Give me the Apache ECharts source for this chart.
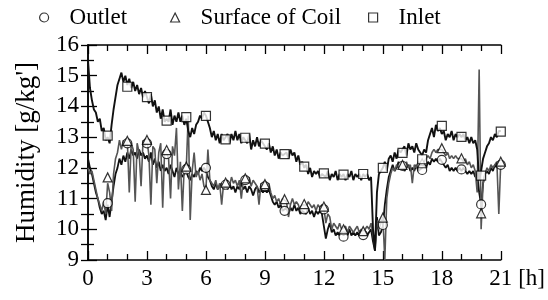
<!DOCTYPE html>
<html>
<head>
<meta charset="utf-8">
<script src="https://cdn.jsdelivr.net/npm/echarts@6/dist/echarts.min.js"></script>
<style>
  html, body { margin: 0; padding: 0; background: #fff; }
  #chart { width: 548px; height: 300px; }
</style>
</head>
<body>
<div id="chart"></div>
<script>
// sampling step of the logged lines, in hours
const step = 0.1;

// Inlet humidity, 0.0 .. 21.0 h
const inletLine = [
  15.5, 14.6, 14.2, 13.9, 13.8, 13.5, 13.6, 13.2, 13.3, 12.9,
  13.0, 12.8, 13.4, 13.9, 14.3, 14.7, 14.9, 15.1, 14.8, 15.0,
  14.7, 14.9, 14.6, 14.8, 14.5, 14.7, 14.4, 14.6, 14.3, 14.5,
  14.3, 14.1, 14.4, 14.0, 14.2, 13.8, 14.0, 13.6, 13.9, 13.5,
  13.6, 13.5, 13.9, 13.4, 13.7, 13.5, 13.8, 13.5, 13.7, 13.4,
  13.6, 13.2, 13.0, 13.3, 13.1, 13.4, 13.5, 13.7, 13.6, 13.8,
  13.7, 13.5, 13.3, 13.0, 13.2, 12.9, 13.1, 12.8, 13.1, 12.9,
  12.9, 13.1, 12.8, 13.1, 12.9, 13.2, 12.9, 13.1, 12.8, 13.0,
  13.0, 12.8, 13.1, 12.6, 12.9, 12.7, 13.0, 12.7, 12.9, 12.8,
  12.8, 12.6, 12.8, 12.5, 12.7, 12.4, 12.6, 12.3, 12.5, 12.4,
  12.4, 12.5, 12.3, 12.6, 12.4, 12.5, 12.2, 12.4, 12.1, 12.2,
  12.0, 12.1, 11.8, 12.0, 11.7, 11.9, 11.8, 11.9, 11.7, 11.8,
  11.8, 11.7, 11.9, 11.6, 11.8, 11.7, 11.9, 11.6, 11.8, 11.7,
  11.8, 11.6, 11.8, 11.7, 11.9, 11.6, 11.8, 11.7, 11.8, 11.6,
  11.8, 11.7, 11.8, 11.6, 11.7, 10.0, 9.3, 11.2, 11.8, 11.9,
  12.0, 12.2, 11.9, 12.3, 12.4, 12.2, 12.5, 12.3, 12.6, 12.5,
  12.5, 12.7, 12.4, 12.8, 12.6, 12.7, 12.5, 12.8, 12.6, 12.5,
  12.4, 12.6, 12.5, 12.9, 13.1, 13.3, 13.0, 13.4, 13.2, 13.3,
  13.1, 13.2, 12.9, 13.1, 13.0, 13.2, 12.9, 13.1, 13.0, 13.1,
  13.0, 13.1, 12.9, 13.0, 12.8, 13.0, 12.8, 12.9, 12.6, 11.6,
  11.9, 12.3, 12.5, 12.7, 12.8, 13.0, 12.9, 13.1, 13.0, 13.2,
  13.2
];

// Outlet humidity, 0.0 .. 21.0 h
const outletLine = [
  12.3, 12.0, 11.8, 11.5, 11.2, 11.0, 10.7, 10.5, 10.6, 10.3,
  10.8, 10.4, 10.9, 11.4, 11.8, 12.0, 12.3, 12.1, 12.4, 12.2,
  12.5, 12.3, 12.6, 12.4, 12.5, 12.3, 12.6, 12.4, 12.5, 12.3,
  12.4, 12.2, 12.5, 12.1, 12.3, 12.0, 12.2, 11.9, 12.1, 11.9,
  12.0, 11.8, 12.1, 11.9, 11.7, 12.0, 11.8, 11.9, 11.7, 11.8,
  11.9, 11.7, 11.6, 11.8, 11.7, 11.9, 11.8, 12.0, 11.9, 12.0,
  11.9, 11.7, 11.6, 11.4, 11.3, 11.5, 11.3, 11.4, 11.5, 11.3,
  11.4, 11.3, 11.5, 11.3, 11.4, 11.2, 11.4, 11.3, 11.5, 11.3,
  11.4, 11.2, 11.4, 11.3, 11.1, 11.3, 11.4, 11.2, 11.3, 11.2,
  11.3, 11.2, 11.3, 11.1, 10.9, 10.8, 10.9, 10.7, 10.8, 10.6,
  10.6, 10.7, 10.5, 10.7, 10.6, 10.8, 10.6, 10.7, 10.5, 10.6,
  10.6, 10.5, 10.7, 10.5, 10.6, 10.4, 10.6, 10.5, 10.6, 10.5,
  10.5, 9.7, 10.0, 10.2, 9.9, 10.0, 9.8, 9.9, 9.8, 9.9,
  9.8, 9.9, 9.8, 10.0, 9.8, 9.9, 9.8, 9.9, 9.8, 9.9,
  9.8, 9.9, 9.8, 9.9, 10.0, 9.6, 9.3, 10.4, 9.8, 9.9,
  10.1, 10.8, 11.3, 11.7, 11.9, 12.1, 11.9, 12.0, 12.2, 12.0,
  12.1, 11.9, 12.0, 12.1, 11.9, 12.0, 11.9, 12.1, 11.9, 11.9,
  12.0, 12.1, 12.0, 12.2, 12.1, 12.3, 12.2, 12.3, 12.2, 12.3,
  12.2, 12.1, 12.0, 12.1, 11.9, 12.0, 11.9, 12.0, 11.9, 12.0,
  11.9, 12.0, 11.9, 11.8, 11.9, 11.8, 11.9, 11.7, 11.8, 11.2,
  10.8, 11.5, 11.8, 11.9, 11.8, 12.0, 11.9, 12.1, 12.0, 12.1,
  12.1
];

// Surface of coil humidity, 0.0 .. 21.0 h
const surfaceLine = [
  12.0, 11.8, 11.9, 11.6, 11.3, 11.0, 10.8, 10.6, 10.9, 10.5,
  11.5, 11.2, 10.6, 11.8, 12.3, 12.5, 12.9, 12.6, 12.9, 12.7,
  12.9, 11.2, 12.8, 12.6, 10.9, 12.8, 12.5, 11.4, 12.9, 12.7,
  12.9, 12.4, 10.8, 12.7, 12.6, 11.5, 12.5, 12.8, 10.7, 12.6,
  12.5, 12.3, 11.0, 12.7, 12.4, 13.3, 11.3, 12.2, 10.6, 12.1,
  12.0, 13.7, 10.3, 11.9, 12.5, 11.7, 11.9, 11.6, 11.8, 11.4,
  11.3, 12.6, 11.6, 11.5, 11.4, 11.6, 11.3, 11.5, 10.8, 11.5,
  11.5, 11.6, 11.4, 11.7, 11.5, 11.6, 11.4, 11.6, 11.0, 11.6,
  11.6, 11.5, 11.7, 11.4, 11.6, 11.5, 11.4, 10.8, 11.5, 11.4,
  11.5, 11.4, 11.5, 11.2, 11.0, 11.1, 10.9, 11.0, 10.8, 11.0,
  11.0, 10.9, 10.4, 10.8, 11.0, 10.8, 10.9, 10.8, 10.6, 10.8,
  10.8, 10.7, 10.9, 10.8, 10.7, 10.8, 10.6, 10.8, 10.7, 10.8,
  10.7, 10.2, 10.5, 10.4, 10.0, 10.2, 10.1, 10.0, 10.2, 10.0,
  10.0, 10.1, 9.9, 10.1, 10.0, 9.9, 10.0, 10.1, 9.9, 10.0,
  9.9, 10.0, 10.1, 10.0, 10.2, 9.8, 9.4, 10.3, 10.0, 10.2,
  10.4, 9.0, 11.0, 11.5, 11.8, 12.0, 11.9, 12.1, 12.0, 12.1,
  12.1, 12.0, 12.2, 12.0, 12.1, 11.5, 12.1, 12.0, 12.2, 12.1,
  12.1, 12.2, 12.3, 12.4, 12.3, 12.5, 12.6, 12.5, 12.6, 12.6,
  12.6, 12.5, 12.4, 12.5, 12.3, 12.4, 12.3, 12.4, 12.3, 12.3,
  12.3, 12.2, 12.3, 12.1, 12.2, 12.0, 12.1, 11.9, 11.2, 15.2,
  10.0, 11.5, 11.8, 12.0, 11.9, 12.1, 12.0, 12.1, 12.2, 10.5,
  12.2
];

// hourly marker positions
const markHours = [1, 2, 3, 4, 5, 6, 7, 8, 9, 10, 11, 12, 13, 14, 15, 16, 17, 18, 19, 20, 21];
const outletMarks = [10.85, 12.8, 12.8, 12.45, 11.95, 12.0, 11.45, 11.6, 11.4, 10.6, 10.65, 10.65, 9.76, 9.81, 10.14, 12.06, 11.93, 12.26, 11.95, 10.81, 12.1];
const surfaceMarks = [11.69, 12.88, 12.91, 12.58, 12.04, 11.28, 11.52, 11.66, 11.47, 10.98, 10.82, 10.74, 10.0, 9.94, 10.38, 12.1, 12.15, 12.64, 12.31, 10.52, 12.2];
const inletMarks = [13.05, 14.64, 14.3, 13.54, 13.65, 13.69, 12.93, 12.98, 12.79, 12.45, 12.04, 11.82, 11.78, 11.8, 12.0, 12.49, 12.28, 13.37, 13.01, 11.75, 13.18];

const font = "'Liberation Serif', 'Times New Roman', serif";

function toPairs(arr) {
  return arr.map((v, i) => [Math.round(i * step * 10) / 10, v]);
}
function markPairs(arr) {
  return arr.map((v, i) => [markHours[i], v]);
}

const chart = echarts.init(document.getElementById('chart'));

const axisLine = { show: true, lineStyle: { color: '#000', width: 1.5 } };

const lineSeries = (name, data, color, width) => ({
  name: name,
  type: 'line',
  data: toPairs(data),
  showSymbol: false,
  silent: true,
  lineStyle: { color: color, width: width },
  animation: false
});

const markSeries = (name, data, symbol) => ({
  name: name,
  type: 'scatter',
  data: markPairs(data),
  symbol: symbol,
  symbolSize: 9,
  itemStyle: { color: '#fff', borderColor: '#000', borderWidth: 1.2 },
  z: 5,
  animation: false
});

// one legend per item so each can sit where it does in the figure
const legendItem = (name, left) => ({
  left: left,
  top: 6,
  padding: 0,
  data: [name],
  itemWidth: 9,
  itemHeight: 9,
  itemStyle: { color: '#fff', borderColor: '#000', borderWidth: 1.2 },
  textStyle: { fontFamily: font, fontSize: 23, color: '#000', padding: [0, 0, 0, 16] }
});

const option = {
  backgroundColor: '#fff',
  legend: [
    legendItem('Outlet', 39),
    legendItem('Surface of Coil', 170),
    legendItem('Inlet', 368)
  ],
  grid: { left: 88, right: 46, top: 45, bottom: 40 },
  xAxis: [
    {
      type: 'value',
      min: 0,
      max: 21,
      interval: 3,
      name: '[h]',
      nameLocation: 'end',
      nameGap: 12,
      nameTextStyle: { fontFamily: font, fontSize: 23, color: '#000', verticalAlign: 'top', padding: [7, 0, 0, 0] },
      axisLine: axisLine,
      axisTick: { inside: true, length: 9, lineStyle: { color: '#000', width: 1.3 } },
      minorTick: { show: true, splitNumber: 3, length: 6, lineStyle: { color: '#000', width: 1.3 } },
      axisLabel: { fontFamily: font, fontSize: 23, color: '#000', margin: 7 },
      splitLine: { show: false }
    },
    {
      type: 'value',
      position: 'top',
      min: 0,
      max: 21,
      interval: 3,
      axisLine: axisLine,
      axisTick: { inside: true, length: 9, lineStyle: { color: '#000', width: 1.3 } },
      minorTick: { show: true, splitNumber: 3, length: 6, lineStyle: { color: '#000', width: 1.3 } },
      axisLabel: { show: false },
      splitLine: { show: false }
    }
  ],
  yAxis: [
    {
      type: 'value',
      min: 9,
      max: 16,
      interval: 1,
      name: "Humidity [g/kg']",
      nameLocation: 'middle',
      nameGap: 48,
      nameTextStyle: { fontFamily: font, fontSize: 27, color: '#000' },
      axisLine: axisLine,
      axisTick: { inside: true, length: 9, lineStyle: { color: '#000', width: 1.3 } },
      minorTick: { show: true, splitNumber: 2, length: 6, lineStyle: { color: '#000', width: 1.3 } },
      axisLabel: { fontFamily: font, fontSize: 23, color: '#000', margin: 9 },
      splitLine: { show: false }
    },
    {
      type: 'value',
      position: 'right',
      min: 9,
      max: 16,
      interval: 1,
      axisLine: axisLine,
      axisTick: { inside: true, length: 7, lineStyle: { color: '#000', width: 1.3 } },
      minorTick: { show: true, splitNumber: 2, length: 7, lineStyle: { color: '#000', width: 1.3 } },
      axisLabel: { show: false },
      splitLine: { show: false }
    }
  ],
  series: [
    lineSeries('Outlet line', outletLine, '#111', 1.8),
    lineSeries('Surface line', surfaceLine, '#555', 1.6),
    lineSeries('Inlet line', inletLine, '#111', 1.9),
    markSeries('Outlet', outletMarks, 'circle'),
    markSeries('Surface of Coil', surfaceMarks, 'triangle'),
    markSeries('Inlet', inletMarks, 'rect')
  ]
};

chart.setOption(option);
</script>
</body>
</html>
